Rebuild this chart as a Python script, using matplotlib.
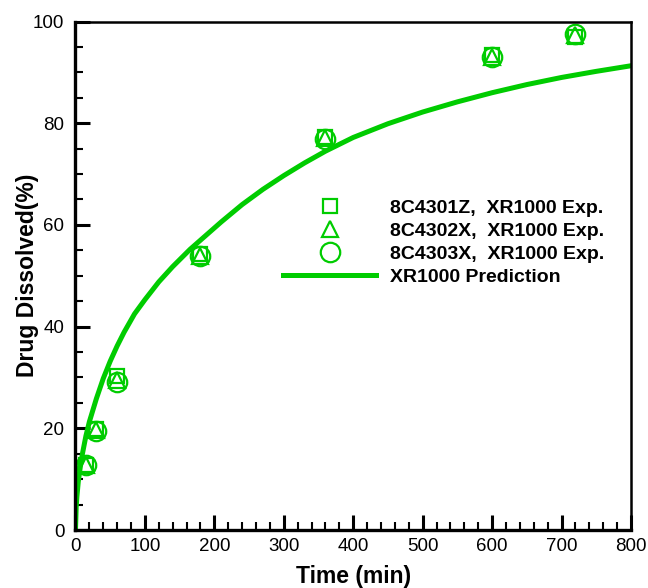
import matplotlib.pyplot as plt
from matplotlib.ticker import MultipleLocator

plt.rcParams['font.family'] = ['Liberation Sans', 'DejaVu Sans']

# experimental dissolution points (time in min, % dissolved)
time_exp = [15, 30, 60, 180, 360, 600, 720]
lot_z01 = [12.8, 19.8, 30.2, 54.2, 77.2, 93.4, 96.9]
lot_x02 = [12.8, 19.6, 29.6, 53.9, 77.0, 93.1, 97.3]
lot_x03 = [12.7, 19.4, 29.1, 53.8, 76.9, 93.0, 97.5]

# prediction curve
time_pred = [0, 1, 2, 4, 7, 10, 15, 20, 30, 40, 50, 60, 70, 85, 100, 120, 140,
             165, 180, 210, 240, 270, 300, 330, 360, 400, 450, 500, 550, 600,
             650, 700, 750, 800]
pred = [0, 4.5, 6.5, 9.5, 12.5, 15.0, 18.5, 21.3, 25.8, 29.8, 33.2, 36.2, 38.9,
        42.5, 45.3, 48.8, 51.8, 55.2, 57.0, 60.6, 64.0, 67.0, 69.7, 72.2, 74.5,
        77.2, 79.9, 82.2, 84.2, 86.0, 87.6, 89.0, 90.2, 91.3]

labels = ['8C4301Z,  XR1000 Exp.', '8C4302X,  XR1000 Exp.',
          '8C4303X,  XR1000 Exp.', 'XR1000 Prediction']

green = '#00cc00'

fig = plt.figure(figsize=(6.48, 5.88), dpi=100)
ax = fig.add_axes([0.1165, 0.0986, 0.8572, 0.8648])

ax.plot(time_exp, lot_z01, ls='none', marker='s', ms=10, mfc='none',
        mec=green, mew=1.6, label=labels[0])
ax.plot(time_exp, lot_x02, ls='none', marker='^', ms=12, mfc='none',
        mec=green, mew=1.6, label=labels[1])
ax.plot(time_exp, lot_x03, ls='none', marker='o', ms=14, mfc='none',
        mec=green, mew=1.6, label=labels[2])
ax.plot(time_pred, pred, color=green, lw=3.6, label=labels[3])

ax.set_xlim(0, 800)
ax.set_ylim(0, 100)
ax.xaxis.set_major_locator(MultipleLocator(100))
ax.xaxis.set_minor_locator(MultipleLocator(20))
ax.yaxis.set_major_locator(MultipleLocator(20))
ax.yaxis.set_minor_locator(MultipleLocator(5))

ax.tick_params(which='both', direction='in', top=False, right=False,
               labelsize=13.5, width=1.5)
ax.tick_params(which='major', length=11, width=2.2)
ax.tick_params(which='minor', length=6)
ax.tick_params(axis='y', pad=8)
ax.tick_params(axis='x', pad=6)

for side in ['left', 'bottom']:
    ax.spines[side].set_linewidth(2.4)
for side in ['top', 'right']:
    ax.spines[side].set_linewidth(1.8)

ax.set_xlabel('Time (min)', fontsize=16.5, fontweight='bold', labelpad=7)
ax.set_ylabel('Drug Dissolved(%)', fontsize=16.5, fontweight='bold',
              labelpad=-4.5)

ax.legend(loc='upper left', bbox_to_anchor=(0.3735, 0.651), frameon=False,
          borderpad=0, borderaxespad=0, handlelength=4.8, handletextpad=0.72,
          labelspacing=0.28, prop={'weight': 'bold', 'size': 14})

fig.savefig('out.png', dpi=100)
